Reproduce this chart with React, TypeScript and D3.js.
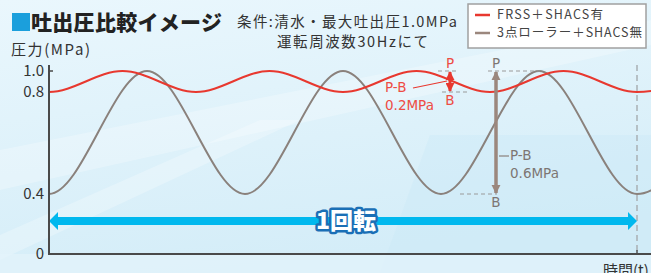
import React from 'react';
import * as d3 from 'd3';

// rotation angle (deg) at each peak / trough, and pressure (MPa)
const redAngles = [-45, 0, 45, 90, 135, 180, 225, 270, 315, 360, 405];
const redValues = [1.0, 0.8, 1.0, 0.8, 1.0, 0.8, 1.0, 0.8, 1.0, 0.8, 1.0];
const grayAngles = [-60, 0, 60, 120, 180, 240, 300, 360, 420];
const grayValues = [1.0, 0.4, 1.0, 0.4, 1.0, 0.4, 1.0, 0.4, 1.0];

const yTicks = [0, 0.4, 0.8, 1.0];
const yTickLabels = ['0', '0.4', '0.8', '1.0'];

const seriesNames = ['FRSS＋SHACS有', '3点ローラー＋SHACS無'];

const W = 651;
const H = 273;
const RED = '#e8382f';
const GRAY = '#8a817c';
const BROWN = '#9b877d';
const BLUE = '#00b8ee';
const FONT = '"Noto Sans CJK JP", "Noto Sans", sans-serif';
const LATIN = '"DejaVu Sans", "Noto Sans", sans-serif';

const App = () => {
    // the original axis is an illustration: 0-0.4, 0.4-0.8, 0.8-1.0 use different spacing
    const y = d3.scaleLinear().domain([0, 0.4, 0.8, 1.0]).range([254, 194, 92, 71]);
    const x = d3.scaleLinear().domain([0, 360]).range([49, 637]);

    const line = d3.line<[number, number]>()
        .x(d => x(d[0]))
        .y(d => y(d[1]))
        .curve(d3.curveMonotoneX);

    const redPath = line(redAngles.map((a, i) => [a, redValues[i]]));
    const grayPath = line(grayAngles.map((a, i) => [a, grayValues[i]]));

    const x0 = x(0);
    const x1 = x(360);
    const yBase = y(0);

    // blue "1 rotation" arrow
    const ay = 221;
    const head = 9;
    const arrowPts = [
        [x0, ay], [x0 + head, ay - 9], [x0 + head, ay - 4], [x1 - head, ay - 4], [x1 - head, ay - 9],
        [x1, ay], [x1 - head, ay + 9], [x1 - head, ay + 4], [x0 + head, ay + 4], [x0 + head, ay + 9],
    ].map(p => p.join(',')).join(' ');

    // red P-B marker
    const rX = 450;
    const rP = y(1.0);
    const rB = y(0.8);
    // gray P-B marker
    const gX = 496;
    const gP = y(1.0);
    const gB = y(0.4);

    return (
        <svg width={W} height={H} style={{position: 'absolute', left: 0, top: 0}}>
            <defs>
                <linearGradient id="bg" x1="0" y1="0" x2="0.3" y2="1">
                    <stop offset="0" stopColor="#eaf7fd" />
                    <stop offset="1" stopColor="#d4edf8" />
                </linearGradient>
                <clipPath id="plot">
                    <rect x={x0} y={0} width={W - x0} height={yBase} />
                </clipPath>
                <marker id="redHead" viewBox="0 0 10 10" refX="9" refY="5" markerWidth="3" markerHeight="3" orient="auto-start-reverse">
                    <path d="M0,0 L10,5 L0,10 z" fill={RED} />
                </marker>
                <marker id="grayHead" viewBox="0 0 10 10" refX="9" refY="5" markerWidth="2.6" markerHeight="2.6" orient="auto-start-reverse">
                    <path d="M0,0 L10,5 L0,10 z" fill={BROWN} />
                </marker>
            </defs>

            {/* background */}
            <rect width={W} height={H} fill="url(#bg)" />
            <polygon points="0,150 651,20 651,45 0,190" fill="#ffffff" opacity={0.25} />
            <polygon points="0,235 260,120 300,120 0,260" fill="#ffffff" opacity={0.25} />
            <polygon points="430,135 651,135 651,273 380,273" fill="#c9e8f6" opacity={0.35} />
            <rect x={0} y={yBase} width={W} height={H - yBase} fill="#e4f4fb" opacity={0.7} />

            {/* title */}
            <rect x={12} y={13} width={18} height={18} fill="#1b9fdc" />
            <text x={31} y={30} fontFamily={FONT} fontSize={21} fontWeight={900} fill="#222" textLength={191}>吐出圧比較イメージ</text>
            <text x={237} y={27} fontFamily={FONT} fontSize={14.5} fill="#333" textLength={220} lengthAdjust="spacing">条件:清水・最大吐出圧1.0MPa</text>
            <text x={277} y={47} fontFamily={FONT} fontSize={14.5} fill="#333" textLength={151} lengthAdjust="spacing">運転周波数30Hzにて</text>
            <text x={11} y={55} fontFamily={FONT} fontSize={15} fill="#333" textLength={79} lengthAdjust="spacing">圧力(MPa)</text>

            {/* legend */}
            <rect x={468} y={4} width={178} height={44} fill="#fff" stroke="#a0a0a0" strokeWidth={1.5} />
            {seriesNames.map((name, i) => (
                <g key={name} transform={`translate(475, ${15 + i * 18})`}>
                    <line x1={0} x2={15} y1={0} y2={0} stroke={i === 0 ? RED : BROWN} strokeWidth={2.5} />
                    <text x={22} y={0} dy="0.35em" fontFamily={FONT} fontSize={12.5} fill="#444"
                          textLength={i === 0 ? 106 : 145} lengthAdjust="spacing">{name}</text>
                </g>
            ))}

            {/* end of one rotation */}
            <line x1={x1} x2={x1} y1={65} y2={yBase} stroke="#a9b0b4" strokeWidth={1.5} strokeDasharray="6 4" />
            <line x1={x1} x2={x1} y1={yBase - 4} y2={yBase} stroke="#555" strokeWidth={1.5} />

            {/* curves */}
            <g clipPath="url(#plot)" fill="none">
                <path d={grayPath ?? ''} stroke={GRAY} strokeWidth={2} />
                <path d={redPath ?? ''} stroke={RED} strokeWidth={2} />
            </g>

            {/* dashed P / B guides */}
            <g stroke="#9a9a9a" strokeWidth={1.2} strokeDasharray="4 3">
                <line x1={438} x2={458} y1={rP} y2={rP} />
                <line x1={442} x2={470} y1={rB} y2={rB} />
                <line x1={488} x2={540} y1={gP} y2={gP} />
                <line x1={460} x2={497} y1={gB} y2={gB} />
            </g>

            {/* red P-B */}
            <line x1={rX} x2={rX} y1={rP + 1} y2={rB - 1} stroke={RED} strokeWidth={3}
                  markerStart="url(#redHead)" markerEnd="url(#redHead)" />
            <line x1={413} y1={88} x2={447} y2={81} stroke={RED} strokeWidth={1.2} />
            <g fontFamily={LATIN} fontSize={13.5} fill="#ee4b44">
                <text x={rX} y={68} textAnchor="middle">P</text>
                <text x={rX} y={105} textAnchor="middle">B</text>
                <text x={385} y={92}>P-B</text>
                <text x={385} y={110}>0.2MPa</text>
            </g>

            {/* gray P-B */}
            <line x1={gX} x2={gX} y1={gP + 1} y2={gB - 1} stroke={BROWN} strokeWidth={3.5}
                  markerStart="url(#grayHead)" markerEnd="url(#grayHead)" />
            <line x1={499} x2={509} y1={156} y2={156} stroke="#8a817c" strokeWidth={1.2} />
            <g fontFamily={LATIN} fontSize={13.5} fill="#7d7673">
                <text x={gX} y={68} textAnchor="middle">P</text>
                <text x={gX} y={207} textAnchor="middle">B</text>
                <text x={510} y={160}>P-B</text>
                <text x={510} y={178}>0.6MPa</text>
            </g>

            {/* 1 rotation arrow */}
            <polygon points={arrowPts} fill={BLUE} />
            <text x={346} y={ay} dy="0.36em" textAnchor="middle" fontFamily={FONT} fontSize={23} fontWeight={900}
                  fill="#fff" stroke="#1a6fb6" strokeWidth={5} strokeLinejoin="round" paintOrder="stroke">1回転</text>

            {/* axes */}
            <line x1={x0} x2={x0} y1={65} y2={yBase} stroke="#4a4a4a" strokeWidth={2} />
            <line x1={x0 - 1} x2={W} y1={yBase} y2={yBase} stroke="#4a4a4a" strokeWidth={2} />
            <line x1={x0} x2={x0 + 4} y1={y(1.0)} y2={y(1.0)} stroke="#4a4a4a" strokeWidth={1.5} />
            {yTicks.map((t, i) => (
                <text key={t} x={44} y={y(t)} dy="0.36em" textAnchor="end" fontFamily={FONT} fontSize={15} fill="#333">
                    {yTickLabels[i]}
                </text>
            ))}
            <text x={603} y={276} fontFamily={FONT} fontSize={15} fill="#333">時間(t)</text>
        </svg>
    );
};

export default App;
